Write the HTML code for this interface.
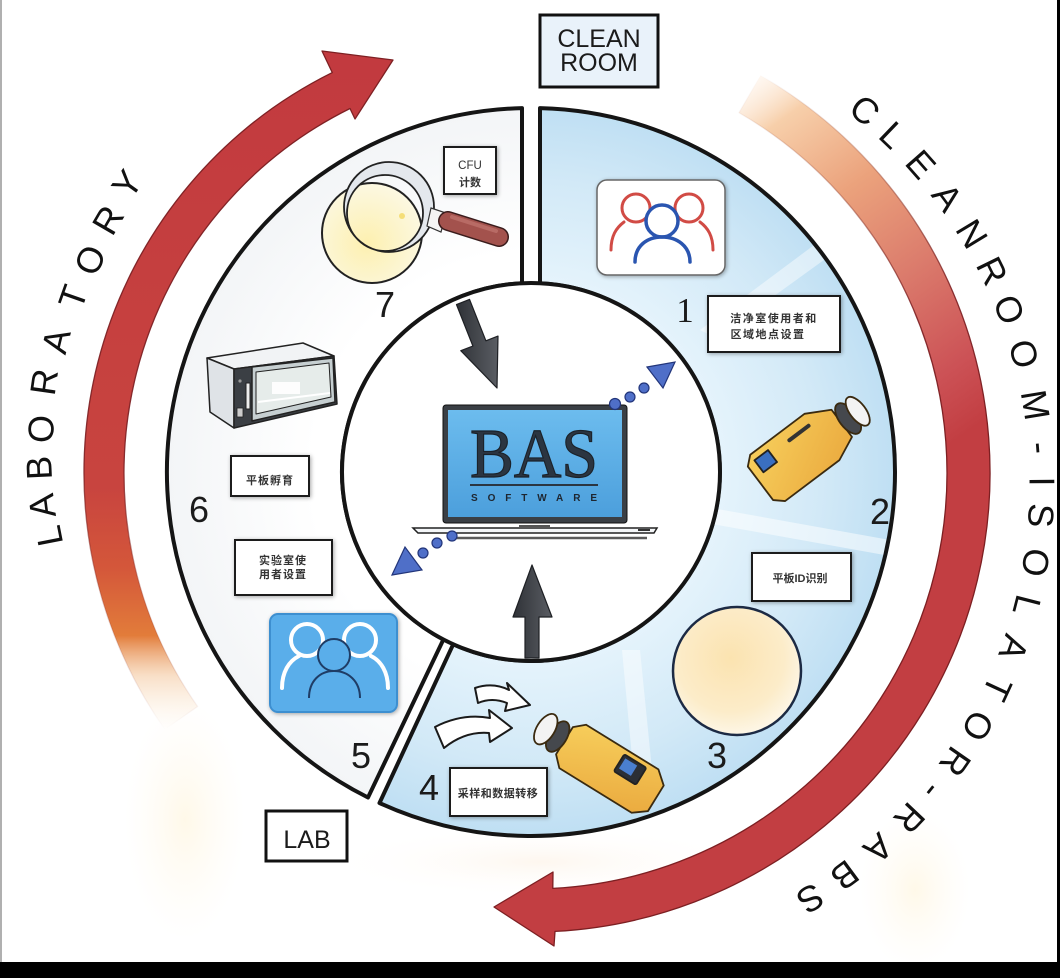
<!DOCTYPE html>
<html><head><meta charset="utf-8"><style>
html,body{margin:0;padding:0;background:#fff;}
svg{display:block}
</style></head><body>
<svg width="1060" height="978" viewBox="0 0 1060 978" xmlns="http://www.w3.org/2000/svg" font-family="'Liberation Sans','Noto Sans CJK SC',sans-serif">
<defs>
  <linearGradient id="lg" gradientUnits="userSpaceOnUse" x1="0" y1="730" x2="0" y2="55">
    <stop offset="0" stop-color="#fbe6c8" stop-opacity="0"/>
    <stop offset="0.08" stop-color="#f3c59a" stop-opacity="0.55"/>
    <stop offset="0.14" stop-color="#e27c3a"/>
    <stop offset="0.24" stop-color="#d4573a"/>
    <stop offset="0.36" stop-color="#c8443f"/>
    <stop offset="1" stop-color="#c23a3f"/>
  </linearGradient>
  <linearGradient id="lgs" gradientUnits="userSpaceOnUse" x1="0" y1="730" x2="0" y2="55">
    <stop offset="0" stop-color="#8a2a20" stop-opacity="0"/>
    <stop offset="0.2" stop-color="#8a2a20" stop-opacity="0.3"/>
    <stop offset="0.4" stop-color="#7d1f22" stop-opacity="0.9"/>
    <stop offset="1" stop-color="#7d1f22"/>
  </linearGradient>
  <linearGradient id="rg" gradientUnits="userSpaceOnUse" x1="745" y1="85" x2="985" y2="420">
    <stop offset="0" stop-color="#fde9d6" stop-opacity="0.3"/>
    <stop offset="0.12" stop-color="#f7cfaa"/>
    <stop offset="0.35" stop-color="#eba27c"/>
    <stop offset="0.6" stop-color="#db7b6c"/>
    <stop offset="0.85" stop-color="#cc5256"/>
    <stop offset="1" stop-color="#c23e42"/>
  </linearGradient>
  <linearGradient id="rgs" gradientUnits="userSpaceOnUse" x1="745" y1="85" x2="985" y2="420">
    <stop offset="0" stop-color="#a0503a" stop-opacity="0"/>
    <stop offset="0.3" stop-color="#a0503a" stop-opacity="0.4"/>
    <stop offset="0.7" stop-color="#7d1f22" stop-opacity="0.9"/>
    <stop offset="1" stop-color="#7d1f22"/>
  </linearGradient>
  <radialGradient id="blue" gradientUnits="userSpaceOnUse" cx="531" cy="472" r="364">
    <stop offset="0.5" stop-color="#e6f4fc"/>
    <stop offset="0.8" stop-color="#d2e9f7"/>
    <stop offset="1" stop-color="#bfdff3"/>
  </radialGradient>
  <radialGradient id="wseg" gradientUnits="userSpaceOnUse" cx="531" cy="472" r="364">
    <stop offset="0.6" stop-color="#ffffff"/>
    <stop offset="1" stop-color="#f3f5f7"/>
  </radialGradient>
  <radialGradient id="dish3" cx="0.45" cy="0.4" r="0.6">
    <stop offset="0" stop-color="#fbe3b0"/>
    <stop offset="0.7" stop-color="#fcecc9"/>
    <stop offset="1" stop-color="#fdf6e6"/>
  </radialGradient>
  <radialGradient id="dish7" cx="0.45" cy="0.6" r="0.6">
    <stop offset="0" stop-color="#fdf0b0"/>
    <stop offset="1" stop-color="#fcf8e2"/>
  </radialGradient>
  <linearGradient id="scr" x1="0" y1="0" x2="0" y2="1">
    <stop offset="0" stop-color="#6cbcee"/>
    <stop offset="1" stop-color="#4c9fdc"/>
  </linearGradient>
  <linearGradient id="darr" x1="0" y1="0" x2="1" y2="0">
    <stop offset="0" stop-color="#2f3237"/>
    <stop offset="1" stop-color="#5a5d63"/>
  </linearGradient>
  <linearGradient id="orng" x1="0" y1="0" x2="1" y2="1">
    <stop offset="0" stop-color="#f7cf5c"/>
    <stop offset="1" stop-color="#eaa93e"/>
  </linearGradient>
  <radialGradient id="gy" cx="0.5" cy="0.5" r="0.5">
    <stop offset="0" stop-color="#fff3d6" stop-opacity="0.55"/>
    <stop offset="1" stop-color="#fff8ea" stop-opacity="0"/>
  </radialGradient>
  <radialGradient id="gp" cx="0.5" cy="0.5" r="0.5">
    <stop offset="0" stop-color="#fdf1e4" stop-opacity="0.6"/>
    <stop offset="1" stop-color="#fff" stop-opacity="0"/>
  </radialGradient>
  <filter id="sh" x="-20%" y="-20%" width="140%" height="140%">
    <feGaussianBlur in="SourceAlpha" stdDeviation="2"/>
    <feOffset dx="1" dy="1"/>
    <feComponentTransfer><feFuncA type="linear" slope="0.35"/></feComponentTransfer>
    <feMerge><feMergeNode/><feMergeNode in="SourceGraphic"/></feMerge>
  </filter>
  <clipPath id="bclip">
    <path d="M540,108.1 A364,364 0 1 1 379.5,803 L453.2,644.3 A189,189 0 1 0 540,283.2 Z"/>
  </clipPath>
</defs>

<rect width="1060" height="978" fill="#fff"/>
<!-- faint glows -->
<ellipse cx="185" cy="820" rx="60" ry="120" fill="url(#gy)"/>
<ellipse cx="915" cy="890" rx="55" ry="80" fill="url(#gy)"/>
<ellipse cx="540" cy="862" rx="220" ry="36" fill="url(#gp)"/>

<!-- borders -->
<rect x="0" y="0" width="2" height="962" fill="#b0b0b0"/>
<rect x="1057" y="0" width="3" height="962" fill="#000"/>
<rect x="0" y="962" width="1060" height="16" fill="#000"/>

<!-- big red arrows -->
<path d="M197.6,706.5 A407,407 0 0 1 350,108.5 L355,119 L393,60 L322,51 L332.3,72.6 A447,447 0 0 0 164.8,729.4 Z" fill="url(#lg)" stroke="url(#lgs)" stroke-width="1.3" stroke-linejoin="round"/>
<path d="M760.5,75.5 A459,459 0 0 1 555,931.4 L554,946 L494,907 L553,872 L552.8,888.4 A416,416 0 0 0 739,112.7 Z" fill="url(#rg)" stroke="url(#rgs)" stroke-width="1.3" stroke-linejoin="round"/>

<!-- ring segments -->
<path d="M368,797.5 A364,364 0 0 1 522,108.1 L522,283.2 A189,189 0 0 0 443.4,639.5 Z" fill="url(#wseg)" stroke="#151515" stroke-width="4" stroke-linejoin="round"/>
<path d="M540,108.1 A364,364 0 1 1 379.5,803 L453.2,644.3 A189,189 0 1 0 540,283.2 Z" fill="url(#blue)"/>
<g clip-path="url(#bclip)" fill="#fff">
  <polygon points="700,330 716,338 900,205 888,190" opacity="0.45"/>
  <polygon points="712,508 890,540 890,556 712,524" opacity="0.5"/>
  <polygon points="622,650 640,650 655,800 636,800" opacity="0.45"/>
</g>
<path d="M540,108.1 A364,364 0 1 1 379.5,803 L453.2,644.3 A189,189 0 1 0 540,283.2 Z" fill="none" stroke="#151515" stroke-width="4" stroke-linejoin="round"/>

<!-- center circle -->
<circle cx="531" cy="472" r="189" fill="#fff" stroke="#151515" stroke-width="4"/>

<!-- CLEAN ROOM box -->
<rect x="540" y="15" width="118" height="72" fill="#e9f2fa" stroke="#111" stroke-width="3"/>
<text x="599" y="47" text-anchor="middle" font-size="25" fill="#1b1b1b">CLEAN</text>
<text x="599" y="71" text-anchor="middle" font-size="25" fill="#1b1b1b">ROOM</text>

<!-- LAB box -->
<rect x="266" y="811" width="81" height="50" fill="#fff" stroke="#111" stroke-width="3"/>
<text x="307" y="848" text-anchor="middle" font-size="25" fill="#1b1b1b">LAB</text>

<!-- LABORATORY letters -->
<g font-size="36" fill="#111" text-anchor="middle" dominant-baseline="central">
  <text x="49" y="536" transform="rotate(-101.2 49 536)">L</text>
  <text x="42" y="506" transform="rotate(-97.4 42 506)">A</text>
  <text x="39" y="468" transform="rotate(-92.6 39 468)">B</text>
  <text x="41" y="429" transform="rotate(-87.7 41 429)">O</text>
  <text x="44" y="382" transform="rotate(-81.9 44 382)">R</text>
  <text x="56" y="341" transform="rotate(-76.5 56 341)">A</text>
  <text x="73" y="297" transform="rotate(-70.6 73 297)">T</text>
  <text x="90" y="260" transform="rotate(-65.4 90 260)">O</text>
  <text x="108" y="220" transform="rotate(-59.9 108 220)">R</text>
  <text x="127" y="184" transform="rotate(-54.7 127 184)">Y</text>
</g>
<!-- CLEANROOM-ISOLATOR-RABS letters -->
<g font-size="36" fill="#111" text-anchor="middle" dominant-baseline="central">
  <text x="864.8" y="110.2" transform="rotate(39.4 864.8 110.2)">C</text>
  <text x="892.7" y="134.9" transform="rotate(43.8 892.7 134.9)">L</text>
  <text x="920.8" y="164.3" transform="rotate(48.6 920.8 164.3)">E</text>
  <text x="947.4" y="197.2" transform="rotate(53.6 947.4 197.2)">A</text>
  <text x="971.9" y="233.8" transform="rotate(58.8 971.9 233.8)">N</text>
  <text x="992.2" y="270.9" transform="rotate(63.8 992.2 270.9)">R</text>
  <text x="1009.2" y="309.6" transform="rotate(68.8 1009.2 309.6)">O</text>
  <text x="1023.9" y="353.8" transform="rotate(74.3 1023.9 353.8)">O</text>
  <text x="1035.4" y="405" transform="rotate(80.5 1035.4 405)">M</text>
  <text x="1040.6" y="447.8" transform="rotate(85.6 1040.6 447.8)">-</text>
  <text x="1042" y="481.6" transform="rotate(89.6 1042 481.6)">I</text>
  <text x="1041" y="515.5" transform="rotate(93.6 1041 515.5)">S</text>
  <text x="1035.7" y="562.6" transform="rotate(99.2 1035.7 562.6)">O</text>
  <text x="1026.8" y="605.6" transform="rotate(104.4 1026.8 605.6)">L</text>
  <text x="1013.9" y="647.7" transform="rotate(109.6 1013.9 647.7)">A</text>
  <text x="997.3" y="688.5" transform="rotate(114.8 997.3 688.5)">T</text>
  <text x="977.9" y="726" transform="rotate(119.8 977.9 726)">O</text>
  <text x="955.2" y="761.8" transform="rotate(124.8 955.2 761.8)">R</text>
  <text x="932.8" y="791.5" transform="rotate(129.2 932.8 791.5)">-</text>
  <text x="909.4" y="818.2" transform="rotate(133.4 909.4 818.2)">R</text>
  <text x="878.4" y="848.3" transform="rotate(138.5 878.4 848.3)">A</text>
  <text x="844.8" y="875.4" transform="rotate(143.6 844.8 875.4)">B</text>
  <text x="810.4" y="898.5" transform="rotate(148.5 810.4 898.5)">S</text>
</g>

<!-- Segment 7: dish + magnifier -->
<circle cx="372" cy="233" r="50" fill="url(#dish7)" stroke="#222" stroke-width="2"/>
<circle cx="402" cy="216" r="3" fill="#f2d860" opacity="0.8"/>
<path d="M344,207 a45,45 0 1,0 90,0 a45,45 0 1,0 -90,0 Z M347,213 a38,38 0 1,0 76,0 a38,38 0 1,0 -76,0 Z" fill="#e4e8ed" fill-rule="evenodd" stroke="#222" stroke-width="1.8"/>
<polygon points="431,208 446,213 441,232 427,226" fill="#f4f4f4" stroke="#333" stroke-width="1.2"/>
<line x1="448" y1="221" x2="499" y2="237" stroke="#3a1c1c" stroke-width="20" stroke-linecap="round"/>
<line x1="448" y1="221" x2="499" y2="237" stroke="#a3524d" stroke-width="17" stroke-linecap="round"/>
<line x1="452" y1="217" x2="496" y2="231" stroke="#c27670" stroke-width="4" stroke-linecap="round" opacity="0.7"/>

<!-- Segment 6: incubator -->
<g stroke="#222" stroke-width="1.5" stroke-linejoin="round">
  <polygon points="207,358 303,343 334,356 234,369" fill="#f1f3f5"/>
  <polygon points="207,358 234,369 234,428 210,412" fill="#dfe3e7"/>
  <polygon points="234,369 334,356 337,404 234,428" fill="#3b3f44"/>
  <polygon points="252,367 333,358 335,402 252,421" fill="#c6cfd1"/>
  <polygon points="256,372 329,363 331,397 256,414" fill="#e6ecea" stroke-width="1"/>
  <rect x="246" y="383" width="4" height="26" fill="#eee" stroke-width="1"/>
</g>
<rect x="272" y="382" width="28" height="12" fill="#fff" opacity="0.9"/>
<line x1="258" y1="402" x2="330" y2="393" stroke="#fff" stroke-width="2"/>
<circle cx="240" cy="381" r="1.6" fill="#999"/>
<rect x="237" y="408" width="6" height="9" fill="#ccc" stroke="#222" stroke-width="0.8"/>

<!-- Segment 5: blue people icon -->
<rect x="270" y="614" width="127" height="98" rx="8" fill="#5aaeea" stroke="#3e8fd0" stroke-width="2" filter="url(#sh)"/>
<g fill="none" stroke="#fff" stroke-width="4" stroke-linecap="round">
  <circle cx="307" cy="640" r="16"/>
  <path d="M282,688 C282,672 289,661 299,656"/>
  <circle cx="360" cy="640" r="16"/>
  <path d="M388,688 C388,672 381,661 371,656"/>
</g>
<circle cx="334" cy="655" r="16" fill="#5aaeea" stroke="#1f3d66" stroke-width="2"/>
<path d="M309,698 C309,681 320,671 334,671 C348,671 360,681 360,698" fill="none" stroke="#1f3d66" stroke-width="2"/>

<!-- Segment 1: people icon box -->
<rect x="597" y="180" width="128" height="95" rx="10" fill="#fff" stroke="#666" stroke-width="1.5" filter="url(#sh)"/>
<g fill="none" stroke="#d14b45" stroke-width="3" stroke-linecap="round">
  <circle cx="636" cy="208" r="14"/>
  <path d="M611,250 C611,236 616,228 624,222"/>
  <circle cx="689" cy="208" r="14"/>
  <path d="M713,250 C713,236 708,228 700,222"/>
</g>
<circle cx="662" cy="221" r="16" fill="#fff" stroke="#2a55b0" stroke-width="3.5"/>
<path d="M635,262 C635,246 647,237 662,237 C677,237 690,246 690,262" fill="none" stroke="#2a55b0" stroke-width="3.5" stroke-linecap="round"/>

<!-- Segment 2: sampler -->
<g transform="translate(805,451) rotate(-37)" stroke="#3a2a10" stroke-width="1.8" stroke-linejoin="round">
  <polygon points="-55,-22 -46,-30 22,-30 46,-17 46,17 22,28 -46,28 -55,20" fill="url(#orng)"/>
  <ellipse cx="54" cy="0" rx="9" ry="18" fill="#45484d"/>
  <ellipse cx="66" cy="0" rx="8" ry="17" fill="#f3f3f3"/>
  <rect x="-46" y="-23" width="17" height="15" fill="#3a6fc0" stroke="#222"/>
  <line x1="-6" y1="-18" x2="18" y2="-18" stroke="#333" stroke-width="4" stroke-linecap="round"/>
</g>

<!-- Segment 3: petri dish -->
<circle cx="737" cy="671" r="64" fill="url(#dish3)" stroke="#1c2a44" stroke-width="2.5"/>

<!-- Segment 4: arrows + sampler -->
<g fill="#fff" stroke="#1a1a1a" stroke-width="2" stroke-linejoin="round">
  <path d="M475,688 Q493,682 509,690 L507,683 L530,705 L505,711 L507,703 Q492,697 478,703 Z"/>
  <path d="M435,727 Q462,713 490,718 L489,710 L512,728 L490,742 L489,733 Q465,731 444,748 Z"/>
</g>
<g transform="translate(607,767) rotate(31.7)" stroke="#3a2a10" stroke-width="1.8" stroke-linejoin="round">
  <polygon points="-50,-16 -40,-25 45,-25 58,-14 58,16 45,26 -40,26 -50,16" fill="url(#orng)"/>
  <ellipse cx="-58" cy="0" rx="9" ry="17" fill="#45484d"/>
  <ellipse cx="-72" cy="0" rx="9" ry="17" fill="#f3f3f3"/>
  <rect x="8" y="-20" width="26" height="20" rx="2" fill="#2b2f36" stroke="#222"/>
  <rect x="11" y="-17" width="14" height="12" fill="#4a7fd0" stroke="none"/>
</g>

<!-- text boxes -->
<g filter="url(#sh)" fill="#fff" stroke="#1a1a1a" stroke-width="2">
  <rect x="444" y="147" width="52" height="47"/>
  <rect x="708" y="296" width="132" height="56"/>
  <rect x="231" y="456" width="78" height="40"/>
  <rect x="235" y="540" width="97" height="55"/>
  <rect x="752" y="553" width="99" height="48"/>
  <rect x="450" y="768" width="97" height="48"/>
</g>
<g font-size="11" fill="#333" font-weight="bold" text-anchor="middle">
  <text x="470" y="169" font-weight="normal" font-size="11.5">CFU</text>
  <text x="470" y="186">计数</text>
  <text x="774" y="322" letter-spacing="1.5">洁净室使用者和</text>
  <text x="768" y="338" letter-spacing="1.5">区域地点设置</text>
  <text x="270" y="484" letter-spacing="1">平板孵育</text>
  <text x="283" y="564" letter-spacing="1">实验室使</text>
  <text x="283" y="578" letter-spacing="1">用者设置</text>
  <text x="800" y="582">平板ID识别</text>
  <text x="498" y="797" letter-spacing="0.5">采样和数据转移</text>
</g>

<!-- numbers -->
<g font-size="36" fill="#1b1b1b" text-anchor="middle">
  <text x="385" y="317">7</text>
  <text x="685" y="322" font-family="'Liberation Serif',serif" font-size="35">1</text>
  <text x="880" y="524">2</text>
  <text x="717" y="768">3</text>
  <text x="429" y="800">4</text>
  <text x="361" y="768">5</text>
  <text x="199" y="522">6</text>
</g>

<!-- center: laptop -->
<rect x="443" y="405" width="184" height="118" rx="3" fill="#3a3f45" stroke="#111" stroke-width="1"/>
<rect x="448" y="410" width="174" height="107" fill="url(#scr)"/>
<text x="534" y="477" text-anchor="middle" font-family="'Liberation Serif',serif" font-size="70" fill="#2b3541" stroke="#1b222a" stroke-width="1.2" textLength="128" lengthAdjust="spacingAndGlyphs">BAS</text>
<line x1="470" y1="485" x2="598" y2="485" stroke="#2b3541" stroke-width="2"/>
<text x="534" y="501" text-anchor="middle" font-size="10" font-weight="bold" fill="#1e2630" textLength="126" lengthAdjust="spacing">SOFTWARE</text>
<path d="M413,528 L657,528 L654,533 L418,533 Z" fill="#f4f6f8" stroke="#222" stroke-width="1.5"/>
<line x1="453" y1="538" x2="647" y2="538" stroke="#333" stroke-width="2.5" opacity="0.8"/>
<line x1="519" y1="526" x2="550" y2="526" stroke="#555" stroke-width="2"/>
<line x1="638" y1="530" x2="650" y2="530" stroke="#333" stroke-width="2"/>

<!-- dark arrows -->
<polygon points="456.5,304.6 469.5,299.4 485.9,340.8 498,336.1 497,388 460.8,350.7 472.9,346" fill="url(#darr)" stroke="#1e2024" stroke-width="1.2" stroke-linejoin="round"/>
<polygon points="525,658 525,617 513,617 532,565 552,617 539,617 539,658" fill="url(#darr)" stroke="#1e2024" stroke-width="1.2" stroke-linejoin="round"/>

<!-- blue dotted arrows -->
<g fill="#4f6fc8" stroke="#22357a" stroke-width="1.2">
  <circle cx="615" cy="404" r="5.5"/>
  <circle cx="630" cy="397" r="5"/>
  <circle cx="644" cy="388" r="5"/>
  <polygon points="647,367 675,362 663,388"/>
  <circle cx="452" cy="536" r="5"/>
  <circle cx="437" cy="543" r="5"/>
  <circle cx="423" cy="553" r="5"/>
  <polygon points="392,575 422,570 405,547"/>
</g>
</svg>
</body></html>
